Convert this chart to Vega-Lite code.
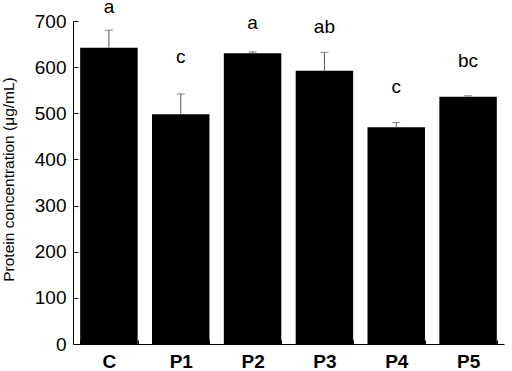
{
  "$schema": "https://vega.github.io/schema/vega-lite/v6.json",
  "width": 431,
  "height": 323,
  "autosize": {"type": "none"},
  "padding": {"left": 73, "top": 21, "right": 8, "bottom": 27},
  "background": "white",
  "config": {
    "view": {"stroke": null},
    "font": "Liberation Sans",
    "axis": {"grid": false, "domainColor": "black", "tickColor": "black", "labelColor": "black", "titleColor": "black", "labelFont": "Liberation Sans", "titleFont": "Liberation Sans"}
  },
  "data": {
    "values": [
      {"group": "C", "value": 642, "err_top": 680, "letter": "a", "label_y": 717},
      {"group": "P1", "value": 498, "err_top": 542, "letter": "c", "label_y": 608},
      {"group": "P2", "value": 630, "err_top": 633, "letter": "a", "label_y": 682},
      {"group": "P3", "value": 592, "err_top": 632, "letter": "ab", "label_y": 675},
      {"group": "P4", "value": 470, "err_top": 480, "letter": "c", "label_y": 545},
      {"group": "P5", "value": 536, "err_top": 538, "letter": "bc", "label_y": 601}
    ]
  },
  "encoding": {
    "x": {
      "field": "group",
      "type": "nominal",
      "sort": null,
      "scale": {"paddingInner": 0.2, "paddingOuter": 0.1},
      "axis": {"title": null, "labelAngle": 0, "labelFontSize": 19, "labelFontWeight": "bold", "tickBand": "extent", "tickSize": -4, "labelPadding": 12, "domainColor": "black"}
    }
  },
  "layer": [
    {
      "mark": {"type": "bar", "color": "black"},
      "encoding": {
        "y": {
          "field": "value",
          "type": "quantitative",
          "scale": {"domain": [0, 700], "nice": false},
          "axis": {
            "title": "Protein concentration (μg/mL)",
            "titleFontSize": 15.5,
            "titleFontWeight": "normal",
            "titleX": -57,
            "titleY": 158,
            "titleAngle": -90,
            "titleAlign": "center",
            "titleBaseline": "bottom",
            "labelFontSize": 19,
            "values": [0, 50, 100, 150, 200, 250, 300, 350, 400, 450, 500, 550, 600, 650, 700],
            "labelExpr": "datum.value % 100 == 0 ? datum.label : ''",
            "tickSize": -5,
            "labelPadding": 12
          }
        }
      }
    },
    {
      "mark": {"type": "rule", "color": "#555555", "strokeWidth": 1},
      "encoding": {
        "y": {"field": "value", "type": "quantitative"},
        "y2": {"field": "err_top"}
      }
    },
    {
      "mark": {"type": "tick", "color": "#555555", "thickness": 1, "size": 8, "orient": "horizontal"},
      "encoding": {
        "y": {"field": "err_top", "type": "quantitative"}
      }
    },
    {
      "mark": {"type": "text", "fontSize": 19, "baseline": "alphabetic", "color": "black", "clip": false},
      "encoding": {
        "y": {"field": "label_y", "type": "quantitative"},
        "text": {"field": "letter"}
      }
    }
  ]
}
